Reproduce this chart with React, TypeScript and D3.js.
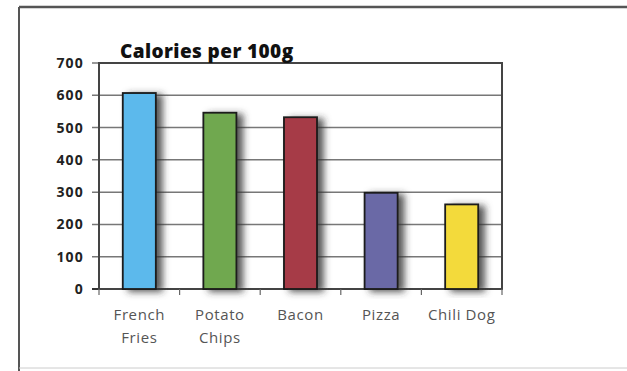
import React from "react";
import * as d3 from "d3";

const categories = ["French Fries", "Potato Chips", "Bacon", "Pizza", "Chili Dog"];
const calories = [607, 546, 532, 298, 262];
const barColors = ["#5cb9ec", "#6fa84f", "#a63a47", "#6a69a6", "#f3da3b"];
const yTicks = [0, 100, 200, 300, 400, 500, 600, 700];
const title = "Calories per 100g";

const W = 627;
const H = 371;
const plot = { left: 99, right: 502, top: 63, bottom: 289 };

export default function App() {
  const x = d3
    .scaleBand<string>()
    .domain(categories)
    .range([plot.left, plot.right])
    .paddingInner(0.59)
    .paddingOuter(0.295);
  const xb = d3.scaleBand<string>().domain(categories).range([plot.left, plot.right]);
  const y = d3.scaleLinear().domain([0, 700]).range([plot.bottom, plot.top]);

  return (
    <svg
      width={W}
      height={H}
      style={{ position: "absolute", left: 0, top: 0, background: "#fff" }}
      fontFamily="'Open Sans', sans-serif"
    >
      <defs>
        <filter id="shadow" x="-50%" y="-10%" width="200%" height="120%">
          <feDropShadow dx="6" dy="2" stdDeviation="3.5" floodColor="#333" floodOpacity="0.8" />
        </filter>
      </defs>
      {/* outer frame */}
      <line x1={19} y1={7} x2={W} y2={7} stroke="#555" strokeWidth={2.5} />
      <line x1={19} y1={7} x2={19} y2={H} stroke="#555" strokeWidth={2} />
      <line x1={19} y1={368} x2={W} y2={368} stroke="#ccc" strokeWidth={1} />

      {/* grid */}
      {yTicks.map((t) => (
        <g key={t}>
          <line
            x1={plot.left - 7}
            x2={plot.right}
            y1={y(t)}
            y2={y(t)}
            stroke={t === 0 ? "#333" : "#777"}
            strokeWidth={t === 0 ? 2 : 1.5}
          />
          <text
            x={84}
            y={y(t)}
            dy="0.36em"
            textAnchor="end"
            fontSize={14}
            fontWeight={700}
            letterSpacing={1.2}
            fill="#222"
          >
            {t}
          </text>
        </g>
      ))}

      {/* plot border */}
      <rect
        x={plot.left}
        y={plot.top}
        width={plot.right - plot.left}
        height={plot.bottom - plot.top}
        fill="none"
        stroke="#444"
        strokeWidth={2}
      />

      {/* category ticks */}
      {categories.map((c) => (
        <line
          key={c}
          x1={xb(c)}
          x2={xb(c)}
          y1={plot.bottom}
          y2={plot.bottom + 6}
          stroke="#666"
          strokeWidth={1.2}
        />
      ))}
      <line x1={plot.right} x2={plot.right} y1={plot.bottom} y2={plot.bottom + 6} stroke="#666" strokeWidth={1.2} />

      {/* bars */}
      {categories.map((c, i) => (
        <rect
          key={c}
          x={x(c)}
          y={y(calories[i])}
          width={x.bandwidth()}
          height={y(0) - y(calories[i])}
          fill={barColors[i]}
          stroke="#1a1a1a"
          strokeWidth={1.8}
          filter="url(#shadow)"
        />
      ))}

      {/* x labels */}
      {categories.map((c) => {
        const words = c === "Chili Dog" ? [c] : c.split(" ");
        const cx = (x(c) as number) + x.bandwidth() / 2;
        return (
          <text key={c} x={cx} textAnchor="middle" fontSize={15} letterSpacing={0.6} fill="#555">
            {words.map((w, j) => (
              <tspan key={j} x={cx} y={320 + j * 23}>
                {w}
              </tspan>
            ))}
          </text>
        );
      })}

      {/* title */}
      <text x={120} y={58} fontSize={19} fontWeight={800} letterSpacing={0.4} fill="#111">
        {title}
      </text>
    </svg>
  );
}
